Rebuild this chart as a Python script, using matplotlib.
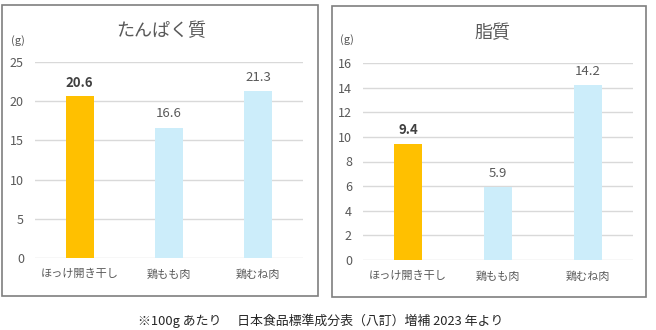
import matplotlib
matplotlib.use("Agg")
import matplotlib.pyplot as plt
from matplotlib.patches import Rectangle

plt.rcParams['font.family'] = ['Noto Sans CJK JP', 'DejaVu Sans']

foods = ["ほっけ開き干し", "鶏もも肉", "鶏むね肉"]
protein = [20.6, 16.6, 21.3]
fat = [9.4, 5.9, 14.2]
protein_ticks = [0, 5, 10, 15, 20, 25]
fat_ticks = [0, 2, 4, 6, 8, 10, 12, 14, 16]

ORANGE = "#FFC000"
BLUE = "#CCEDFA"
TEXT = "#595959"
GRID = "#D9D9D9"
BORDER = "#7F7F7F"

W, H = 656, 330
fig = plt.figure(figsize=(W / 100, H / 100), dpi=100)


def px_rect(x0, y0, x1, y1):
    # pixel box (top-left origin) -> figure fraction [left, bottom, width, height]
    return [x0 / W, 1 - y1 / H, (x1 - x0) / W, (y1 - y0) / H]


def panel(box, axbox, title, title_xy, values, ticks):
    fig.patches.append(Rectangle((box[0], box[1]), box[2], box[3],
                                 transform=fig.transFigure, fill=False,
                                 edgecolor=BORDER, linewidth=1.2))
    ax = fig.add_axes(axbox)
    colors = [ORANGE, BLUE, BLUE]
    x = range(len(foods))
    ax.bar(x, values, width=0.31, color=colors, zorder=3)
    ax.set_xlim(-0.5, len(foods) - 0.5)
    ax.set_ylim(ticks[0], ticks[-1])
    ax.set_yticks(ticks)
    ax.set_xticks(list(x))
    ax.set_xticklabels(foods, fontsize=8, color=TEXT)
    ax.tick_params(axis='y', length=0, pad=8, labelsize=9, labelcolor=TEXT)
    ax.tick_params(axis='x', length=0, pad=8)
    ax.grid(axis='y', color=GRID, linewidth=1, zorder=0)
    for s in ax.spines.values():
        s.set_visible(False)
    for i, v in enumerate(values):
        ax.annotate(f"{v:.1f}", (i, v), xytext=(0, 10), textcoords='offset points',
                    ha='center', va='center', fontsize=9.5,
                    color="#404040" if i == 0 else TEXT,
                    fontweight='bold' if i == 0 else 'normal')
    fig.text(title_xy[0] / W, 1 - title_xy[1] / H, title, ha='center', va='center',
             fontsize=13, color=TEXT)
    return ax


panel(px_rect(2, 5, 318, 296), px_rect(35, 62, 303, 258),
      "たんぱく質", (161, 31), protein, protein_ticks)
fig.text(18 / W, 1 - 41 / H, "(g)", ha='center', va='center', fontsize=8, color=TEXT)

panel(px_rect(332, 6, 646, 297), px_rect(363, 63, 633, 260),
      "脂質", (492, 33), fat, fat_ticks)
fig.text(347 / W, 1 - 40 / H, "(g)", ha='center', va='center', fontsize=8, color=TEXT)

fig.text(321 / W, 1 - 321 / H,
         "※100g あたり　 日本食品標準成分表（八訂）増補 2023 年より",
         ha='center', va='center', fontsize=9.3, color="#262626")

fig.savefig("out.png", dpi=100)
